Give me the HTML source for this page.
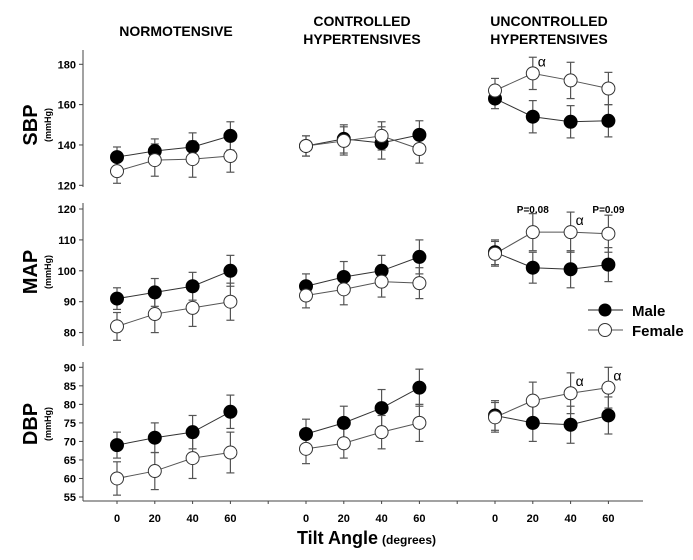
<!DOCTYPE html>
<html><head><meta charset="utf-8"><style>
body{margin:0;background:#fff;}
svg{display:block;font-family:"Liberation Sans",Arial,sans-serif;}
</style></head><body>
<svg id="chart" width="693" height="560" viewBox="0 0 693 560" xmlns="http://www.w3.org/2000/svg">
<text x="176" y="36" font-size="14" font-weight="bold" text-anchor="middle">NORMOTENSIVE</text>
<text x="362" y="26" font-size="14" font-weight="bold" text-anchor="middle">CONTROLLED</text>
<text x="362" y="44" font-size="14" font-weight="bold" text-anchor="middle">HYPERTENSIVES</text>
<text x="549" y="26" font-size="14" font-weight="bold" text-anchor="middle">UNCONTROLLED</text>
<text x="549" y="44" font-size="14" font-weight="bold" text-anchor="middle">HYPERTENSIVES</text>
<g id="plots"></g>
<g>
<line x1="588" y1="310" x2="623" y2="310" stroke="#222" stroke-width="1"/>
<circle cx="605" cy="310" r="6.5" fill="#000"/>
<text x="632" y="316" font-size="15" font-weight="bold">Male</text>
<line x1="588" y1="330" x2="623" y2="330" stroke="#555" stroke-width="1"/>
<circle cx="605" cy="330" r="6.5" fill="#fff" stroke="#333"/>
<text x="632" y="336" font-size="15" font-weight="bold">Female</text>
</g>
<text x="297" y="544" font-size="18" font-weight="bold">Tilt Angle<tspan font-size="12" dx="4">(degrees)</tspan></text>
</svg>
<script>
const tiltLabels = ["0","20","40","60"];
const groups = ["normotensive","controlled","uncontrolled"];
const sbpMale = [[134,137,139,144.5],[139.5,143,141,145],[163,154,151.5,152]];
const sbpFemale = [[127,132.5,133,134.5],[139.5,142,144.5,138],[167,175.5,172,168]];
const sbpMaleErr = [[5,6,7,7],[5,7,8,7],[5,8,8,8]];
const sbpFemaleErr = [[6,8,9,8],[5,7,7,7],[6,8,9,8]];
const mapMale = [[91,93,95,100],[95,98,100,104.5],[106,101,100.5,102]];
const mapFemale = [[82,86,88,90],[92,94,96.5,96],[105.5,112.5,112.5,112]];
const mapMaleErr = [[3.5,4.5,4.5,5],[4,5,5,5.5],[4,5,6,5.5]];
const mapFemaleErr = [[4.5,6,6,6],[4,5,5,5],[4,6,6.5,6]];
const dbpMale = [[69,71,72.5,78],[72,75,79,84.5],[77,75,74.5,77]];
const dbpFemale = [[60,62,65.5,67],[68,69.5,72.5,75],[76.5,81,83,84.5]];
const dbpMaleErr = [[3.5,4,4.5,4.5],[4,4.5,5,5],[4,5,5,5]];
const dbpFemaleErr = [[4.5,5,5.5,5.5],[4,4,4.5,5],[4,5,5.5,5.5]];
const sbpTicks = [120,140,160,180];
const mapTicks = [80,90,100,110,120];
const dbpTicks = [55,60,65,70,75,80,85,90];
const annotations = [
 {panel:0,g:2,i:1,series:"f",text:"α"},
 {panel:1,g:2,i:2,series:"f",text:"α"},
 {panel:2,g:2,i:2,series:"f",text:"α"},
 {panel:2,g:2,i:3,series:"f",text:"α"}
];
const pLabels = [{g:2,i:1,text:"P=0.08"},{g:2,i:3,text:"P=0.09"}];

const NS="http://www.w3.org/2000/svg";
const root=document.getElementById('plots');
function mk(tag,attrs,parent){const e=document.createElementNS(NS,tag);for(const k in attrs)e.setAttribute(k,attrs[k]);(parent||root).appendChild(e);return e;}
const AX=83;
function xPos(g,i){return 117+(g*5+i)*37.8;}
const panels=[
 {name:"sbp",label:"SBP",min:120,max:180,y0:185.3,y1:64.3,top:50,bottom:187,ticks:sbpTicks,m:sbpMale,f:sbpFemale,me:sbpMaleErr,fe:sbpFemaleErr,ly:125},
 {name:"map",label:"MAP",min:80,max:120,y0:332.6,y1:209,top:203,bottom:346,ticks:mapTicks,m:mapMale,f:mapFemale,me:mapMaleErr,fe:mapFemaleErr,ly:272},
 {name:"dbp",label:"DBP",min:55,max:90,y0:497,y1:367.3,top:362,bottom:501,ticks:dbpTicks,m:dbpMale,f:dbpFemale,me:dbpMaleErr,fe:dbpFemaleErr,ly:424}
];
panels.forEach((p,pi)=>{
 const y=v=>p.y0+(v-p.min)*(p.y1-p.y0)/(p.max-p.min);
 const g0=mk('g',{});
 
 
 const ax=mk('line',{x1:AX,y1:p.top,x2:AX,y2:p.bottom,stroke:'#444','stroke-width':1},g0);
 
 
 p.ticks.forEach(t=>{
  mk('line',{x1:AX-4,y1:y(t),x2:AX,y2:y(t),stroke:'#444'},g0);
  const tx=mk('text',{x:AX-7,y:y(t)+4,'font-size':11,'font-weight':'bold','text-anchor':'end'},g0);
  tx.textContent=t;
  
  
 });
 const lt=mk('text',{x:0,y:0,'font-size':20,'font-weight':'bold','text-anchor':'middle',transform:`translate(37,${p.ly}) rotate(-90)`},g0);
 lt.textContent=p.label;
 
 
 const lu=mk('text',{x:0,y:0,'font-size':9,'font-weight':'bold','text-anchor':'middle',transform:`translate(51,${p.ly}) rotate(-90)`},g0);
 lu.textContent='(mmHg)';
 
 
 groups.forEach((gn,g)=>{
  [['m','me','#000','#333'],['f','fe','#fff','#555']].forEach(([k,ek,fill,lc])=>{
   const vals=p[k][g],errs=p[ek][g];
   const pts=vals.map((v,i)=>xPos(g,i)+','+y(v)).join(' ');
   const pl=mk('polyline',{points:pts,fill:'none',stroke:lc,'stroke-width':1},g0);
   
   
   vals.forEach((v,i)=>{
    const x=xPos(g,i),e=errs[i];
    mk('line',{x1:x,y1:y(v-e),x2:x,y2:y(v+e),stroke:'#555','stroke-width':1.2},g0);
    mk('line',{x1:x-4,y1:y(v-e),x2:x+4,y2:y(v-e),stroke:'#555','stroke-width':1.2},g0);
    mk('line',{x1:x-4,y1:y(v+e),x2:x+4,y2:y(v+e),stroke:'#555','stroke-width':1.2},g0);
   });
  });
  [['m','#000','#000'],['f','#fff','#333']].forEach(([k,fill,st])=>{
   p[k][g].forEach((v,i)=>{
    const c=mk('circle',{cx:xPos(g,i),cy:y(p[k][g][i]),r:6.5,fill:fill,stroke:st,'stroke-width':1},g0);
    
    
   });
  });
 });
 annotations.filter(a=>a.panel===pi).forEach(a=>{
  const v=p[a.series][a.g][a.i];
  const t=mk('text',{x:xPos(a.g,a.i)+5,y:y(v)-7,'font-size':14},g0);
  t.textContent=a.text;
  
  
 });
 if(pi===1){pLabels.forEach(pl=>{
  const t=mk('text',{x:xPos(pl.g,pl.i),y:213,'font-size':10,'font-weight':'bold','text-anchor':'middle'},g0);
  t.textContent=pl.text;
  
  
 });}
});
// x axis
const xa=mk('line',{x1:AX,y1:501,x2:643,y2:501,stroke:'#444','stroke-width':1});


for(let s=0;s<14;s++){const x=117+s*37.8;mk('line',{x1:x,y1:501,x2:x,y2:504,stroke:'#444'});}
groups.forEach((gn,g)=>tiltLabels.forEach((l,i)=>{
 const t=mk('text',{x:xPos(g,i),y:522,'font-size':11,'font-weight':'bold','text-anchor':'middle'});
 t.textContent=l;
 
 
}));
</script>
</body></html>
